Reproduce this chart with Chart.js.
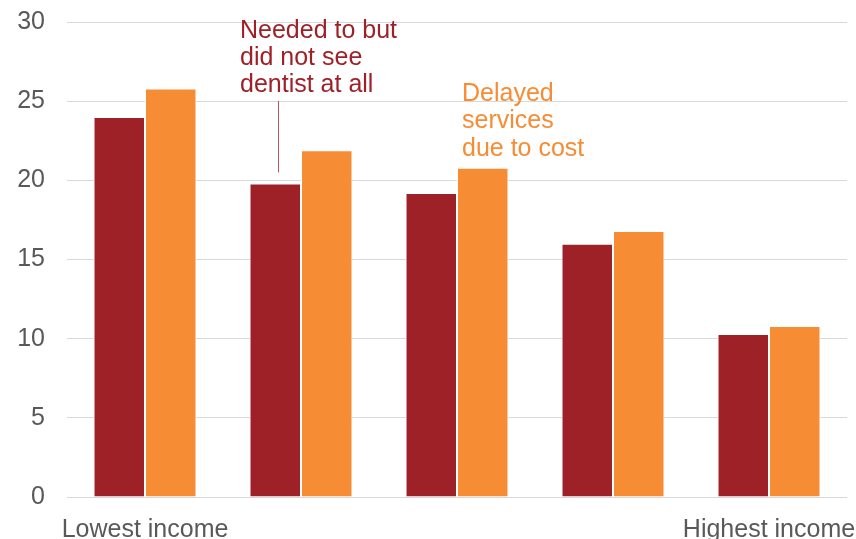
<!DOCTYPE html>
<html>
<head>
<meta charset="utf-8">
<script src="https://cdn.jsdelivr.net/npm/chart.js@4"></script>
<style>
  html, body { margin: 0; padding: 0; background: #fff; }
  #wrap { width: 856px; height: 539px; }
</style>
</head>
<body>
<div id="wrap"><canvas id="dentalChart"></canvas></div>
<script>
const categories = ['Lowest income', '', '', '', 'Highest income'];
const didNotSee = [24.0, 19.8, 19.2, 16.0, 10.3];
const delayedCost = [25.8, 21.9, 20.8, 16.8, 10.8];
const yTicks = [0, 5, 10, 15, 20, 25, 30];

const RED = '#9f2128';
const ORANGE = '#f68c34';
const FONT = "'Liberation Sans', Arial, sans-serif";

// text labels placed next to the bars (category index, px offset, y value)
const notes = [
    { lines: ['Needed to but', 'did not see', 'dentist at all'], color: RED, cat: 1, dx: -61, y: 29 },
    { lines: ['Delayed', 'services', 'due to cost'], color: ORANGE, cat: 2, dx: 5, y: 25 }
];

const notesPlugin = {
    id: 'notes',
    afterDatasetsDraw(chart) {
        const { ctx, scales: { x, y } } = chart;
        ctx.save();
        ctx.font = '25px ' + FONT;
        ctx.textAlign = 'left';
        ctx.textBaseline = 'alphabetic';
        notes.forEach(n => {
            ctx.fillStyle = n.color;
            const left = x.getPixelForValue(n.cat) + n.dx;
            const top = y.getPixelForValue(n.y);
            n.lines.forEach((line, i) => ctx.fillText(line, left, top + i * 27.3));
        });
        // leader line down to the first red bar it names
        const bar = chart.getDatasetMeta(0).data[1];
        ctx.strokeStyle = 'rgba(159,33,40,0.75)';
        ctx.lineWidth = 1;
        ctx.beginPath();
        ctx.moveTo(Math.round(bar.x + 3) + 0.5, y.getPixelForValue(25));
        ctx.lineTo(Math.round(bar.x + 3) + 0.5, y.getPixelForValue(20.5));
        ctx.stroke();
        ctx.restore();
    }
};

new Chart(document.getElementById('dentalChart'), {
    type: 'bar',
    data: {
        labels: categories,
        datasets: [
            {
                label: 'Needed to but did not see dentist at all',
                data: didNotSee,
                backgroundColor: RED,
                borderColor: '#ffffff',
                borderWidth: 1,
                borderSkipped: 'bottom'
            },
            {
                label: 'Delayed services due to cost',
                data: delayedCost,
                backgroundColor: ORANGE,
                borderColor: '#ffffff',
                borderWidth: 1,
                borderSkipped: 'bottom'
            }
        ]
    },
    options: {
        responsive: true,
        maintainAspectRatio: false,
        animation: false,
        datasets: { bar: { barPercentage: 1, categoryPercentage: 0.66 } },
        layout: { padding: { left: 17, right: 9, top: 22, bottom: 0 } },
        plugins: {
            legend: { display: false },
            tooltip: { enabled: false }
        },
        scales: {
            x: {
                grid: { display: false, drawTicks: false },
                border: { display: false },
                ticks: {
                    color: '#595959',
                    font: { family: FONT, size: 25 },
                    padding: 18,
                    maxRotation: 0,
                    autoSkip: false
                },
                afterFit: (axis) => {
                    axis.height = 42;
                    axis.paddingLeft = 0;
                    axis.paddingRight = 0;
                }
            },
            y: {
                min: 0,
                max: 30,
                afterBuildTicks: (axis) => { axis.ticks = yTicks.map(v => ({ value: v })); },
                grid: { color: '#d9d9d9', lineWidth: 1, drawTicks: false },
                border: { display: false },
                ticks: {
                    color: '#595959',
                    font: { family: FONT, size: 25 },
                    padding: 22
                },
                afterFit: (axis) => {
                    axis.width = 50;
                    axis.paddingTop = 0;
                    axis.paddingBottom = 0;
                }
            }
        }
    },
    plugins: [notesPlugin]
});
</script>
</body>
</html>
